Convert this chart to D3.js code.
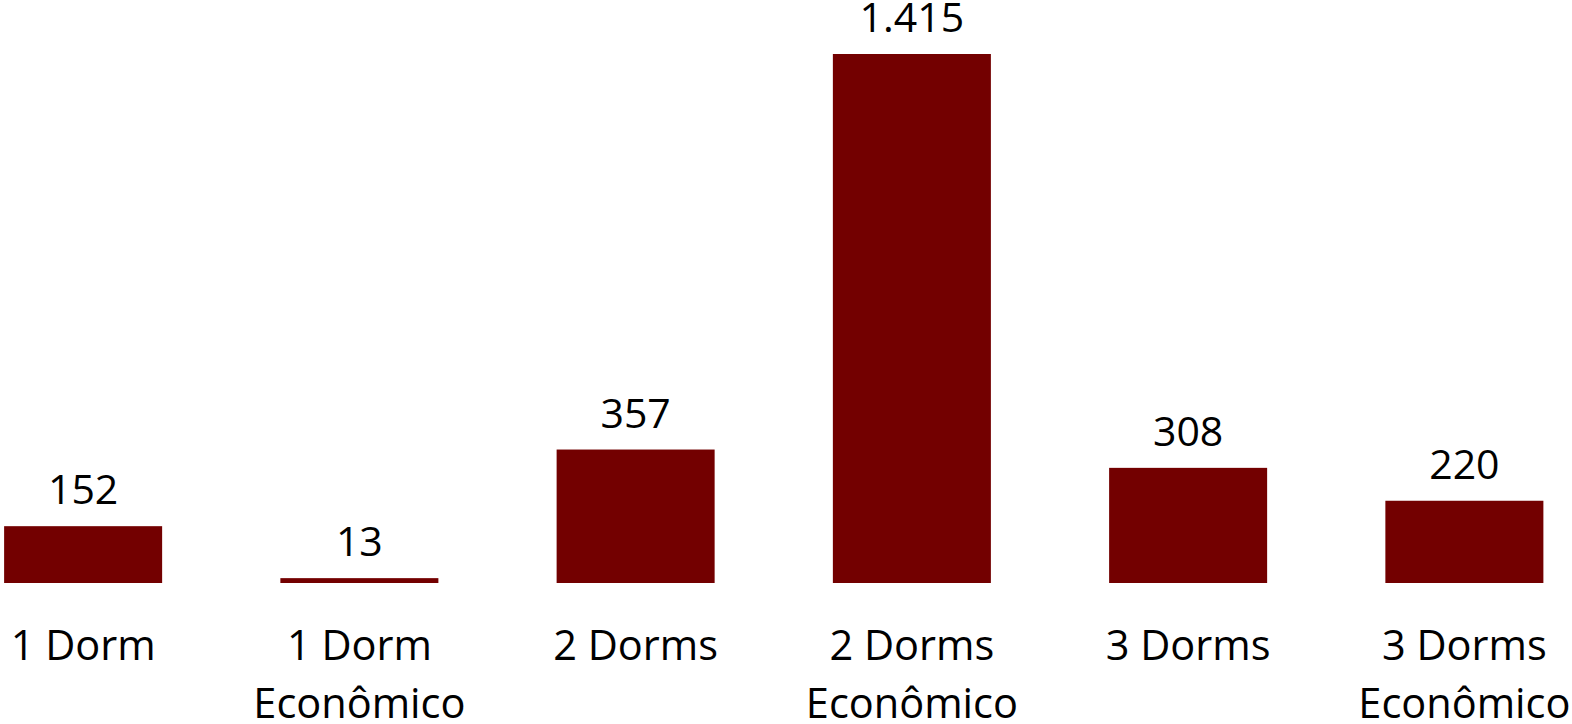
<!DOCTYPE html>
<html>
<head>
<meta charset="utf-8">
<script src="https://cdn.jsdelivr.net/npm/d3@7"></script>
<style>
  html, body { margin: 0; padding: 0; background: #fff; }
  svg { display: block; }
  text { font-family: "Open Sans", "Noto Sans", sans-serif; fill: #000; }
</style>
</head>
<body>
<svg id="chart"></svg>
<script>
const width = 1572;
const height = 724;

const categories = [
  ["1 Dorm"],
  ["1 Dorm", "Econômico"],
  ["2 Dorms"],
  ["2 Dorms", "Econômico"],
  ["3 Dorms"],
  ["3 Dorms", "Econômico"]
];
const values = [152, 13, 357, 1415, 308, 220];
const valueLabels = ["152", "13", "357", "1.415", "308", "220"];

const svg = d3.select("#chart")
    .attr("width", width)
    .attr("height", height);

const x = d3.scaleBand()
    .domain(d3.range(categories.length))
    .range([-55, 1602.5])
    .paddingInner(0.428)
    .paddingOuter(0.214);

const baseline = 583;
const y = d3.scaleLinear()
    .domain([0, 1415])
    .range([baseline, 54]);

// bars
svg.selectAll("rect.bar")
    .data(values)
    .enter()
    .append("rect")
    .attr("class", "bar")
    .attr("x", (d, i) => x(i))
    .attr("y", d => y(d))
    .attr("width", x.bandwidth())
    .attr("height", d => baseline - y(d))
    .attr("fill", "#730000");

// value labels
svg.selectAll("text.value")
    .data(values)
    .enter()
    .append("text")
    .attr("class", "value")
    .attr("x", (d, i) => x(i) + x.bandwidth() / 2)
    .attr("y", d => y(d) - 22)
    .attr("text-anchor", "middle")
    .attr("font-size", "41px")
    .text((d, i) => valueLabels[i]);

// category labels
const cat = svg.selectAll("text.cat")
    .data(categories)
    .enter()
    .append("text")
    .attr("class", "cat")
    .attr("x", (d, i) => x(i) + x.bandwidth() / 2)
    .attr("y", 660)
    .attr("text-anchor", "middle")
    .attr("font-size", "41.5px");

cat.selectAll("tspan")
    .data(d => d)
    .enter()
    .append("tspan")
    .attr("x", function() { return d3.select(this.parentNode).attr("x"); })
    .attr("dy", (d, j) => j === 0 ? 0 : 58)
    .text(d => d);
</script>
</body>
</html>
